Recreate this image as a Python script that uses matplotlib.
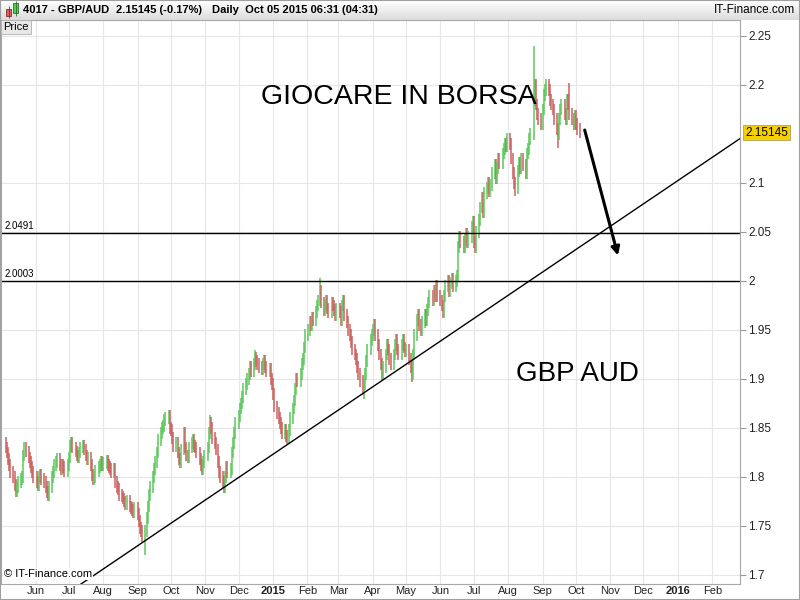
import numpy as np
import pandas as pd
import matplotlib
matplotlib.use("Agg")
import matplotlib.pyplot as plt
import matplotlib.dates as mdates
import matplotlib.transforms as mtransforms

plt.rcParams['font.family'] = ['Liberation Sans', 'DejaVu Sans']

# =====================================================
# Data (daily closes, one line per month)
# =====================================================
closes_2014 = [
    1.830, 1.825, 1.818, 1.812, 1.805, 1.800, 1.792, 1.786, 1.790, 1.795, 1.798, 1.800, 1.822, 1.830, 1.826, 1.820, 1.815, 1.810, 1.805, 1.800,  # May (from 5th)
    1.795, 1.792, 1.800, 1.802, 1.798, 1.795, 1.790, 1.785, 1.782, 1.790, 1.800, 1.805, 1.812, 1.815, 1.818, 1.812, 1.808, 1.812, 1.810, 1.806, 1.812,  # Jun
    1.820, 1.832, 1.835, 1.830, 1.826, 1.822, 1.820, 1.825, 1.830, 1.832, 1.828, 1.822, 1.818, 1.820, 1.812, 1.802, 1.798, 1.800, 1.806, 1.810, 1.812, 1.815, 1.812,  # Jul
    1.814, 1.816, 1.812, 1.810, 1.808, 1.805, 1.808, 1.795, 1.790, 1.788, 1.782, 1.780, 1.778, 1.775, 1.772, 1.776, 1.770, 1.768, 1.766, 1.764, 1.768,  # Aug
    1.762, 1.755, 1.748, 1.745, 1.740, 1.745, 1.758, 1.770, 1.782, 1.790, 1.800, 1.808, 1.815, 1.825, 1.838, 1.845, 1.850, 1.852, 1.858, 1.860, 1.862, 1.850,  # Sep
    1.848, 1.840, 1.832, 1.835, 1.825, 1.818, 1.815, 1.828, 1.845, 1.830, 1.822, 1.820, 1.830, 1.835, 1.838, 1.832, 1.830, 1.825, 1.818, 1.812, 1.808, 1.815, 1.822,  # Oct
    1.830, 1.845, 1.855, 1.850, 1.840, 1.835, 1.828, 1.815, 1.805, 1.800, 1.795, 1.790, 1.800, 1.810, 1.805, 1.808, 1.825, 1.835, 1.845, 1.855,  # Nov
    1.862, 1.870, 1.875, 1.882, 1.890, 1.895, 1.900, 1.905, 1.912, 1.908, 1.915, 1.922, 1.918, 1.915, 1.912, 1.910, 1.915, 1.918, 1.912, 1.908, 1.910, 1.900, 1.895,  # Dec
]
closes_2015 = [
    1.885, 1.872, 1.865, 1.860, 1.855, 1.850, 1.845, 1.848, 1.842, 1.840, 1.848, 1.860, 1.870, 1.878, 1.890, 1.900, 1.898, 1.905, 1.915, 1.920, 1.932, 1.945,  # Jan
    1.950, 1.958, 1.955, 1.962, 1.960, 1.968, 1.975, 1.980, 1.990, 1.978, 1.970, 1.975, 1.980, 1.972, 1.968, 1.978, 1.975, 1.970, 1.965, 1.972,  # Feb
    1.968, 1.960, 1.975, 1.980, 1.965, 1.958, 1.950, 1.945, 1.938, 1.930, 1.925, 1.920, 1.912, 1.905, 1.898, 1.890, 1.895, 1.905, 1.918, 1.930, 1.940, 1.945,  # Mar
    1.950, 1.955, 1.945, 1.935, 1.925, 1.915, 1.905, 1.912, 1.925, 1.935, 1.930, 1.920, 1.915, 1.925, 1.935, 1.940, 1.930, 1.925, 1.935, 1.940, 1.932, 1.928,  # Apr
    1.930, 1.920, 1.912, 1.905, 1.925, 1.945, 1.960, 1.965, 1.955, 1.950, 1.958, 1.965, 1.960, 1.970, 1.978, 1.985, 1.980, 1.990, 1.985, 1.995, 1.985,  # May
    1.980, 1.975, 1.968, 1.985, 1.995, 2.000, 1.990, 1.998, 2.002, 1.995, 2.000, 2.005, 2.035, 2.045, 2.040, 2.035, 2.042, 2.048, 2.040, 2.045, 2.055, 2.060,  # Jun
    2.040, 2.035, 2.050, 2.062, 2.075, 2.085, 2.070, 2.090, 2.095, 2.100, 2.092, 2.098, 2.110, 2.118, 2.105, 2.115, 2.125, 2.120, 2.130, 2.135, 2.140, 2.138, 2.145,  # Jul
    2.140, 2.125, 2.110, 2.100, 2.095, 2.112, 2.120, 2.115, 2.125, 2.118, 2.110, 2.130, 2.135, 2.145, 2.150, 2.185, 2.200, 2.180, 2.170, 2.165, 2.160,  # Aug
    2.175, 2.190, 2.195, 2.200, 2.195, 2.185, 2.180, 2.175, 2.165, 2.155, 2.150, 2.165, 2.175, 2.180, 2.170, 2.165, 2.185, 2.180, 2.170, 2.165, 2.160, 2.168,  # Sep
    2.160, 2.155, 2.15145,  # Oct
]
first_open = 1.835

# bars whose wick goes well past the body
spike_dates = ["2014-09-08", "2014-11-05", "2014-12-16", "2015-02-12", "2015-03-24",
               "2015-05-06", "2015-08-07", "2015-08-24", "2015-09-15", "2015-09-25"]
spike_kinds = ["low", "high", "high", "high", "low", "low", "low", "high", "low", "high"]
spike_values = [1.720, 1.863, 1.930, 2.003, 1.880, 1.897, 2.087, 2.240, 2.136, 2.202]

level_values = [2.0491, 2.0003]
trend_dates = ["2014-11-01", "2016-02-23"]
trend_prices = [1.7765, 2.143]
arrow_dates = ["2015-10-09", "2015-11-08"]
arrow_prices = [2.154, 2.026]
last_price = 2.15145

y_ticks = [1.7, 1.75, 1.8, 1.85, 1.9, 1.95, 2.0, 2.05, 2.1, 2.2, 2.25]
y_labels = ["1.7", "1.75", "1.8", "1.85", "1.9", "1.95", "2", "2.05", "2.1", "2.2", "2.25"]
month_starts = pd.date_range("2014-06-01", "2016-02-01", freq="MS")
month_labels = ["Jun", "Jul", "Aug", "Sep", "Oct", "Nov", "Dec", "2015", "Feb", "Mar", "Apr",
                "May", "Jun", "Jul", "Aug", "Sep", "Oct", "Nov", "Dec", "2016", "Feb"]

# =====================================================
# Build OHLC bars
# =====================================================
dates = pd.bdate_range("2014-05-05", "2015-10-05")
close = np.array(closes_2014 + closes_2015)
open_ = np.r_[first_open, close[:-1]]
high = np.maximum(open_, close) + 0.006
low = np.minimum(open_, close) - 0.006
for d, kind, v in zip(spike_dates, spike_kinds, spike_values):
    i = dates.get_loc(pd.Timestamp(d))
    if kind == "low":
        low[i] = v
    else:
        high[i] = v
colors = np.where(close >= open_, "#5cc85c", "#cc6060")

# =====================================================
# Figure
# =====================================================
fig = plt.figure(figsize=(8, 6), dpi=100)
ax = fig.add_axes([0.0015, 1 - 584 / 600, 0.9235, (584 - 20) / 600])

ax.vlines(dates, low, high, colors=colors, lw=1.1)

for lv in level_values:
    ax.axhline(lv, color="black", lw=1)
    ax.text(0.004, lv + 0.0015, f"{lv:.4f}",
            transform=mtransforms.blended_transform_factory(ax.transAxes, ax.transData),
            fontsize=7, va="bottom", ha="left")

t0 = (mdates.date2num(pd.Timestamp(trend_dates[0])), trend_prices[0])
t1 = (mdates.date2num(pd.Timestamp(trend_dates[1])), trend_prices[1])
ax.axline(t0, t1, color="black", lw=1)

ax.annotate("", xy=(pd.Timestamp(arrow_dates[1]), arrow_prices[1]),
            xytext=(pd.Timestamp(arrow_dates[0]), arrow_prices[0]),
            arrowprops=dict(arrowstyle="-|>", color="black", lw=2.2, mutation_scale=12,
                            shrinkA=0, shrinkB=0))

ax.set_xlim(pd.Timestamp("2014-05-01"), pd.Timestamp("2016-02-26"))
ax.set_ylim(1.6908, 2.2663)

ax.set_xticks(month_starts)
ax.set_xticklabels(month_labels)
for lab in ax.get_xticklabels():
    if lab.get_text() in ("2015", "2016"):
        lab.set_fontweight("bold")
        lab.set_fontsize(10)
ax.set_yticks(y_ticks)
ax.set_yticklabels(y_labels)
ax.yaxis.tick_right()
ax.tick_params(axis="x", length=0, pad=1.5, labelsize=8, color="#999999", labelcolor="#222222")
ax.tick_params(axis="y", length=4, pad=2, labelsize=8.5, color="#999999", labelcolor="#222222")
ax.grid(color="#e6e6e6", lw=0.8)
ax.set_axisbelow(True)
for s in ax.spines.values():
    s.set_color("#a8a8a8")

# last price tag
ax.text(1.007, last_price, f"{last_price:.5f}",
        transform=mtransforms.blended_transform_factory(ax.transAxes, ax.transData),
        fontsize=8.5, va="center", ha="left",
        bbox=dict(boxstyle="square,pad=0.15", fc="#f5d000", ec="#b0a060", lw=0.6))

ax.text(0.538, 0.864, "GIOCARE IN BORSA", transform=ax.transAxes,
        fontsize=20.5, ha="center", va="center")
ax.text(0.78, 0.372, "GBP AUD", transform=ax.transAxes,
        fontsize=20, ha="center", va="center")
ax.text(0.004, 0.018, "© IT-Finance.com", transform=ax.transAxes, fontsize=8,
        ha="left", va="center", bbox=dict(boxstyle="square,pad=0.1", fc="white", ec="none"))

# header band
hax = fig.add_axes([0, 1 - 20 / 600, 1, 20 / 600])
grad = np.linspace(1.0, 0.86, 20).reshape(-1, 1)
hax.imshow(grad, aspect="auto", cmap="gray", vmin=0, vmax=1, extent=[0, 800, 20, 0])
hax.set_xlim(0, 800)
hax.set_ylim(20, 0)
hax.axis("off")
hax.add_patch(plt.Rectangle((6, 9), 5, 7, fc="#e06060", ec="#803030", lw=0.6))
hax.vlines(8.5, 6, 18, color="#803030", lw=0.6)
hax.add_patch(plt.Rectangle((13, 3), 5, 10, fc="#50d050", ec="#307030", lw=0.6))
hax.vlines(15.5, 1, 16, color="#307030", lw=0.6)
hax.text(23, 10, "4017 - GBP/AUD", fontsize=8, fontweight="bold", va="center")
hax.text(116, 10, "2.15145 (-0.17%)", fontsize=8, fontweight="bold", va="center")
hax.text(212, 10, "Daily  Oct 05 2015 06:31 (04:31)", fontsize=8, fontweight="bold", va="center")
hax.text(795, 10, "IT-Finance.com", fontsize=8.5, va="center", ha="right")

fig.text(3 / 800, 1 - 27 / 600, "Price", fontsize=8, va="center", ha="left",
         bbox=dict(boxstyle="square,pad=0.2", fc="#e8e8e8", ec="#b0b0b0", lw=0.6))

fig.patches.append(plt.Rectangle((0, 0), 1, 1, transform=fig.transFigure,
                                 fill=False, ec="#a0a0a0", lw=1.5))

fig.savefig("out.png", dpi=100)
